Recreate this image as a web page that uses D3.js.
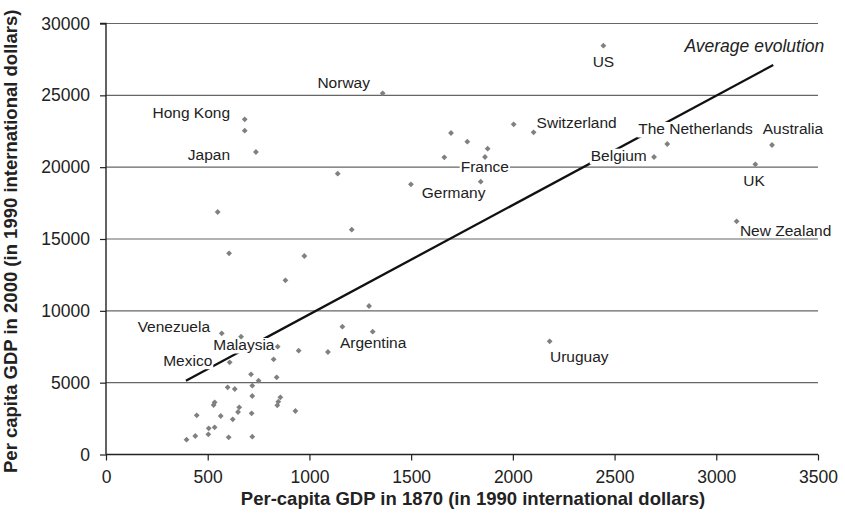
<!DOCTYPE html>
<html>
<head>
<meta charset="utf-8">
<script src="https://cdn.jsdelivr.net/npm/d3@7"></script>
<style>
  html, body { margin: 0; padding: 0; background: #fff; }
  svg { display: block; font-family: "Liberation Sans", Arial, Helvetica, sans-serif; }
</style>
</head>
<body>
<svg id="chart" width="845" height="529"></svg>
<script>
// ---- data ----
const gdp1870 = [682, 682, 737, 1360, 1696, 1776, 1876, 1663, 1863, 2004, 2102, 2445, 2759, 3274, 2694, 3192,
  1139, 549, 605, 975, 882, 1208, 1499, 1842, 1293, 3100,
  569, 664, 844, 947, 1091, 1162, 1311, 2181, 608, 824, 713, 750, 839, 598, 633, 719, 719, 857, 847, 842, 931,
  534, 529, 655, 649, 446, 564, 716, 623, 505, 534, 503, 439, 396, 603, 719];
const gdp2000 = [23330, 22540, 21055, 25140, 22378, 21773, 21285, 20686, 20707, 22983, 22426, 28455, 21612, 21542, 20707, 20199,
  19545, 16879, 14003, 13816, 12125, 15647, 18807, 18988, 10336, 16231,
  8436, 8199, 7503, 7225, 7134, 8895, 8547, 7879, 6417, 6626, 5582, 5137, 5374, 4677, 4559, 4789, 4072, 3981, 3675, 3425, 3028,
  3633, 3445, 3285, 2958, 2728, 2680, 2868, 2450, 1824, 1893, 1406, 1288, 1030, 1197, 1239];

const labelNames = ["Hong Kong", "Japan", "Norway", "Switzerland", "US", "The Netherlands", "Australia", "Belgium",
  "France", "Germany", "UK", "New Zealand", "Venezuela", "Malaysia", "Mexico", "Argentina", "Uruguay"];
const labelPoint = [0, 2, 3, 10, 11, 12, 13, 14, 8, 23, 15, 25, 26, 28, 34, 32, 33];

const trendX = [393, 3280];
const trendY = [5137, 27111];
const trendLabel = "Average evolution";

const xTicks = [0, 500, 1000, 1500, 2000, 2500, 3000, 3500];
const yTicks = [0, 5000, 10000, 15000, 20000, 25000, 30000];
const xTitle = "Per-capita GDP in 1870 (in 1990 international dollars)";
const yTitle = "Per capita GDP in 2000 (in 1990 international dollars)";

// ---- layout: [anchor, dx, dy, white background] ----
const labelLayout = [
  ["end", -14.7, -1, true], ["end", -25.9, 7.5, true], ["end", -12.7, -5, true], ["start", 3, -4, true],
  ["start", -10.7, 21, true], ["start", -29, -10, true], ["start", -9.3, -11, true], ["end", -7.3, 3.7, true],
  ["start", -24.3, 15, true], ["start", -59, 16.6, true], ["start", -12, 21.7, true], ["start", 3.3, 14.7, false],
  ["end", -11.7, -1.6, true], ["start", -64.4, 3.3, true], ["end", -17.4, 3.4, true],
  ["start", -32.7, 16.6, true], ["start", 0.3, 20.4, true]
];

const svg = d3.select("#chart");
const x = d3.scaleLinear().domain([0, 3500]).range([106, 818]);
const y = d3.scaleLinear().domain([0, 30000]).range([454.5, 23.5]);

// gridlines
svg.append("g").selectAll("line").data(yTicks.filter(d => d > 0)).join("line")
  .attr("x1", x(0)).attr("x2", x(3500))
  .attr("y1", d => y(d)).attr("y2", d => y(d))
  .attr("stroke", "#666").attr("stroke-width", 1.2);

// axes
const xAxis = d3.axisBottom(x).tickValues(xTicks).tickSize(6).tickPadding(10).tickFormat(d3.format("d"));
const yAxis = d3.axisLeft(y).tickValues(yTicks).tickSize(6).tickPadding(10).tickFormat(d3.format("d"));
const gx = svg.append("g").attr("transform", `translate(0,${y(0)})`).call(xAxis);
const gy = svg.append("g").attr("transform", `translate(${x(0)},0)`).call(yAxis);
[gx, gy].forEach(g => {
  g.select(".domain").attr("stroke", "#222").attr("stroke-width", 1.4);
  g.selectAll(".tick line").attr("stroke", "#222").attr("stroke-width", 1.2);
  g.selectAll(".tick text").attr("fill", "#222").style("font-size", "17.5px")
    .style("font-family", "'Liberation Sans', Arial, sans-serif");
});
gy.select(".domain").attr("d", `M-6,${y(30000)}H0V${y(0)}`);
gx.select(".domain").attr("d", `M${x(0)},0H${x(3500)}`);

// trend line
svg.append("path")
  .datum(trendX.map((v, i) => [v, trendY[i]]))
  .attr("d", d3.line().x(d => x(d[0])).y(d => y(d[1])))
  .attr("stroke", "#111").attr("stroke-width", 2.3).attr("fill", "none");

svg.append("text")
  .attr("x", x(trendX[1]) + 51).attr("y", y(trendY[1]) - 13.3)
  .attr("text-anchor", "end")
  .style("font-size", "17.5px").style("font-style", "italic").attr("fill", "#222")
  .text(trendLabel);

// labels with white background
const lg = svg.append("g");
labelNames.forEach((name, i) => {
  const p = labelPoint[i];
  const [anchor, dx, dy, bg] = labelLayout[i];
  const g = lg.append("g");
  const t = g.append("text")
    .attr("x", x(gdp1870[p]) + dx).attr("y", y(gdp2000[p]) + dy)
    .attr("text-anchor", anchor)
    .style("font-size", "15.5px").attr("fill", "#222")
    .text(name);
  if (bg) {
    const bb = t.node().getBBox();
    const base = y(gdp2000[p]) + dy;
    g.insert("rect", "text")
      .attr("x", bb.x - 1).attr("width", bb.width + 2)
      .attr("y", base - 12).attr("height", 15.5)
      .attr("fill", "#fff");
  }
});

// points
svg.append("g").selectAll("path").data(gdp1870.map((v, i) => [v, gdp2000[i]])).join("path")
  .attr("d", d3.symbol(d3.symbolSquare, 17))
  .attr("transform", d => `translate(${x(d[0])},${y(d[1])}) rotate(45)`)
  .attr("fill", "#808080");

// axis titles
svg.append("text")
  .attr("x", 473).attr("y", 505).attr("text-anchor", "middle")
  .style("font-size", "18.5px").style("font-weight", "bold").attr("fill", "#222")
  .text(xTitle);
svg.append("text")
  .attr("transform", "translate(16.5,473) rotate(-90)")
  .attr("text-anchor", "start")
  .style("font-size", "18.5px").style("font-weight", "bold").attr("fill", "#222")
  .text(yTitle);
</script>
</body>
</html>
